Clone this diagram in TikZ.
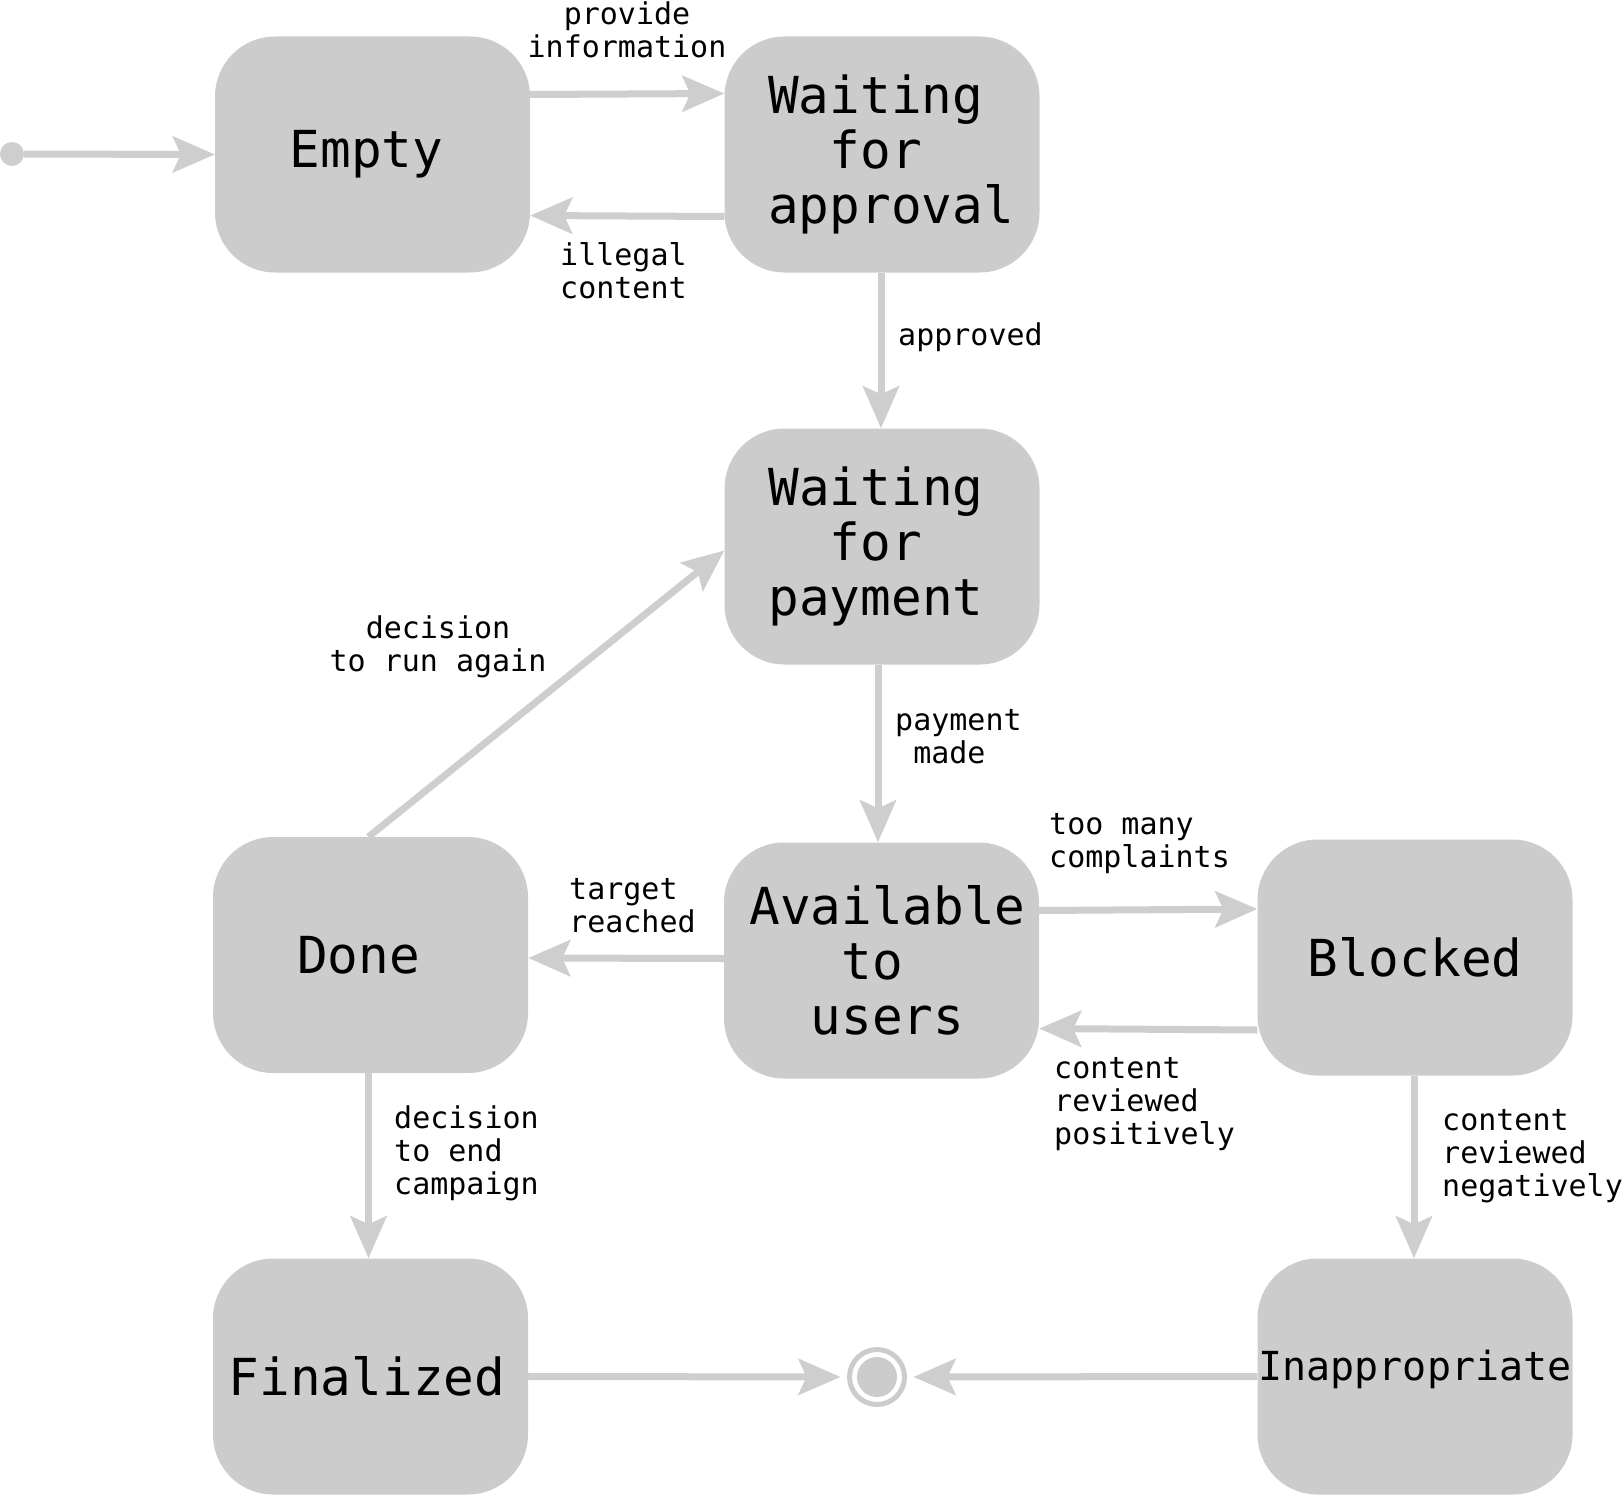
\documentclass[tikz,border=0pt]{standalone}
\usepackage{fontspec}
\newfontfamily\dmono{DejaVu Sans Mono}
\usetikzlibrary{arrows.meta,calc}
\definecolor{st}{RGB}{204,204,204}
\definecolor{ln}{RGB}{206,206,206}
\begin{document}
\begin{tikzpicture}[x=1pt,y=-1pt,
  state/.style={fill=st, rounded corners=60pt, minimum width=315pt, minimum height=236pt, inner sep=0pt, font=\dmono\fontsize{51}{55}\selectfont, align=left},
  arr/.style={draw=ln, line width=7pt, -{Stealth[length=42pt,width=36pt,inset=8pt]}},
  lbl/.style={font=\dmono\fontsize{30}{33}\selectfont, inner sep=0pt},
]
\useasboundingbox (0,0) rectangle (1624,1496);

\node[state] (empty) at (372.5,154.5) {Empty\hspace*{12pt}};
\node[state] (appr) at (882,154.5) {\hspace*{18pt}Waiting\\\hspace*{18pt}\phantom{xx}for\\\hspace*{18pt}approval};
\node[state] (pay) at (882,546.5) {Waiting\hspace*{12pt}\\\phantom{xx}for\\payment};
\node[state] (avail) at (881.5,960.5) {\hspace*{12pt}Available\\\hspace*{12pt}\phantom{xxx}to\\\hspace*{12pt}\phantom{xx}users};
\node[state] (done) at (370.5,955) {Done\hspace*{24pt}};
\node[state] (blk) at (1415,957.5) {Blocked};
\node[state] (fin) at (370.5,1376.5) {Finalized\hspace*{7pt}};
\node[state, font=\dmono\fontsize{40}{44}\selectfont, text height=29pt, text depth=21pt] (inap) at (1415,1376.5) {Inappropriate};

\node[circle, fill=ln, minimum size=24pt, inner sep=0pt] (start) at (12,154) {};
\node[circle, draw=st, line width=5pt, minimum size=55pt, inner sep=0pt, outer sep=9pt] (final) at (877,1377) {};
\fill[st] (final.center) circle (20pt);

\draw[arr] (start) -- (empty.west);
\draw[arr] ([yshift=60pt]empty.east) -- ([yshift=61pt]appr.west);
\draw[arr] ([yshift=-62pt]appr.west) -- ([yshift=-61pt]empty.east);
\draw[arr] ([xshift=-1pt]appr.south) -- ([xshift=-1pt]pay.north);
\draw[arr] ([xshift=-4pt]pay.south) -- ([xshift=-3.5pt]avail.north);
\draw[arr] ([yshift=2pt]avail.west) -- ([yshift=-3pt]done.east);
\draw[arr] ([yshift=50pt]avail.east) -- ([yshift=48.5pt]blk.west);
\draw[arr] ([yshift=-72.5pt]blk.west) -- ([yshift=-68pt]avail.east);
\draw[arr] ([xshift=-2pt]done.north) -- ([yshift=-4pt]pay.west);
\draw[arr] ([xshift=-2pt]done.south) -- ([xshift=-2pt]fin.north);
\draw[arr] ([xshift=-1pt]blk.south) -- ([xshift=-1pt]inap.north);
\draw[arr] (fin.east) -- (final);
\draw[arr] (inap.west) -- (final);

\node[lbl, align=center] (l1) at (627,30) {provide\\information};
\node[lbl, align=left, anchor=west] (l2) at (560,270.5) {illegal\\content};
\node[lbl, anchor=west] (l3) at (898,337) {approved};
\node[lbl, align=left, anchor=west] (l4) at (895,736.5) {payment\\\phantom{x}made};
\node[lbl, align=center] (l5) at (438,646.5) {decision\\to run again};
\node[lbl, align=left, anchor=west] (l6) at (569,906) {target\\reached};
\node[lbl, align=left, anchor=west] (l7) at (1049,843.5) {too many\\complaints};
\node[lbl, align=left, anchor=west] (l8) at (1054,1104) {content\\reviewed\\positively};
\node[lbl, align=left, anchor=west] (l9) at (394,1153.5) {decision\\to end\\campaign};
\node[lbl, align=left, anchor=west] (l10) at (1442,1156) {content\\reviewed\\negatively};
\end{tikzpicture}
\end{document}
